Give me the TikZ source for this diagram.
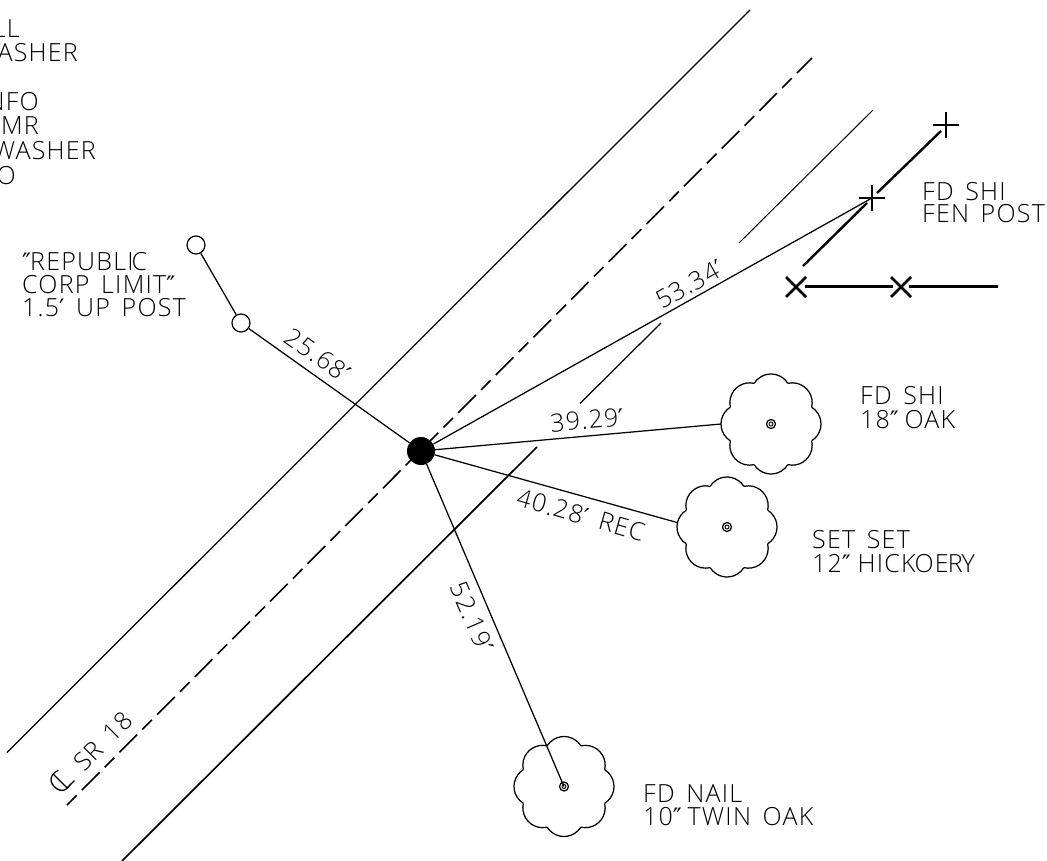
\documentclass[tikz,border=0pt]{standalone}
\usepackage{fontspec}
\setmainfont[LetterSpace=5,WordSpace=1.5]{Open Sans Light}
\newfontfamily\symfont{DejaVu Sans}
\newcommand{\pr}{{\symfont\fontsize{24}{24}\selectfont ′}}
\newcommand{\dpr}{{\symfont\fontsize{24}{24}\selectfont ″}}
\newcommand{\cl}{\fontsize{29}{29}\selectfont\rlap{C}\kern7pt L\fontsize{25}{23}\selectfont}
\tikzset{
  cadtext/.style={font=\fontsize{25}{23}\selectfont, inner sep=0pt, align=left},
  thinline/.style={line width=1.25pt},
  heavyline/.style={line width=2.4pt},
  centerline/.style={line width=1.6pt, dash pattern=on 13.7pt off 7.3pt on 25pt off 7.3pt},
  postmark/.style={circle, draw, line width=1.25pt, minimum size=18pt, inner sep=0pt},
  hub/.style={circle, fill=black, minimum size=28pt, inner sep=0pt},
  crossmark/.style={line width=2.6pt}
}
% tree outline: eight lobes around a named centre, with a small double circle
\newcommand{\treeshape}[1]{%
  \foreach \a in {0,45,...,315} {
    \draw[thinline] (#1) ++(\a-22.5:44pt) arc[start angle=\a-58.1, end angle=\a+58.1, radius=19.84pt];
  }
  \draw[thinline] (#1) circle[radius=4.5pt];
  \draw[line width=.9pt] (#1) circle[radius=2pt];
}
\begin{document}
\begin{tikzpicture}[x=1pt,y=-1pt]
\useasboundingbox (0,0) rectangle (1047,861);
\fill[white] (0,0) rectangle (1047,861);

% road lines
\coordinate (ra) at (7,752.5);
\coordinate (rb) at (750,10);
\coordinate (ca) at (67,805);
\coordinate (cb) at (812,58);
\coordinate (sa) at (122,861);
\coordinate (sb) at (537,447);
\coordinate (sc) at (580,403.5);
\coordinate (sd) at (661,323);
\coordinate (se) at (739,243);
\coordinate (sf) at (873,110);
\draw[thinline] (ra) -- (rb);
\draw[centerline] (ca) -- (cb);
\draw[line width=1.7pt] (sa) -- (sb);
\draw[thinline] (sc) -- (sd);
\draw[line width=1pt] (se) -- (sf);

% hub and ties
\node[hub] (hub) at (421,451) {};
\node[postmark] (p1) at (196,245) {};
\node[postmark] (p2) at (241,323) {};
\coordinate (t1) at (771,424);
\coordinate (t2) at (727,527);
\coordinate (t3) at (564,786.5);
\coordinate (t1e) at (721,424);
\coordinate (t2e) at (677,522.5);
\coordinate (fp1) at (872,198);
\coordinate (fp2) at (946,125);
\coordinate (x1) at (796,287);
\coordinate (x2) at (901,287);
\coordinate (f1) at (803,266);
\coordinate (f2) at (867,203);
\coordinate (f3) at (877,193);
\coordinate (f4) at (941,131);
\coordinate (g1) at (805,286.5);
\coordinate (g2) at (893,286.5);
\coordinate (g3) at (909,286.5);
\coordinate (g4) at (998,286.5);

\draw[thinline] (p1) -- (p2);
\draw[thinline] (p2) -- (hub);
\draw[thinline] (hub) -- (fp1);
\draw[thinline] (hub) -- (t1e);
\draw[thinline] (hub) -- (t2e);
\draw[thinline] (hub) -- (t3);

\treeshape{t1}
\treeshape{t2}
\treeshape{t3}

% fence
\draw[heavyline] (f1) -- (f2);
\draw[heavyline] (f3) -- (f4);
\draw[heavyline] (g1) -- (g2);
\draw[heavyline] (g3) -- (g4);
\foreach \c in {fp1,fp2} {
  \draw[crossmark] (\c) ++(-13,0) -- ++(26,0);
  \draw[crossmark] (\c) ++(0,-13) -- ++(0,26);
}
\foreach \c in {x1,x2} {
  \draw[crossmark] (\c) ++(-10,-10) -- ++(20,20);
  \draw[crossmark] (\c) ++(-10,10) -- ++(20,-20);
}

% clipped notes at the left edge
\node[cadtext, anchor=base east] (n1) at (20,38) {LL};
\node[cadtext, anchor=base east] (n2) at (78,62) {ASHER};
\node[cadtext, anchor=base east] (n3) at (39,111) {NFO};
\node[cadtext, anchor=base east] (n4) at (39,135) {UMR};
\node[cadtext, anchor=base east] (n5) at (96,160) {WASHER};
\node[cadtext, anchor=base east] (n6) at (16,185) {O};

% labels
\node[cadtext, anchor=base west] (l1) at (22,270) {\dpr\kern-1pt REPUBLI\kern-2pt C};
\node[cadtext, anchor=base west] (l2) at (22,293) {CORP LIMIT\dpr};
\node[cadtext, anchor=base west] (l3) at (22,316) {1.5\pr{} UP POST};
\node[cadtext, anchor=base west] (l4) at (922,200.5) {FD SHI};
\node[cadtext, anchor=base west] (l5) at (922,223) {FEN POST};
\node[cadtext, anchor=base west] (l6) at (860,404) {FD SHI};
\node[cadtext, anchor=base west] (l7) at (860,428) {18\dpr{}\kern-6pt{} OAK};
\node[cadtext, anchor=base west] (l8) at (812,548) {SET SET};
\node[cadtext, anchor=base west] (l9) at (812,572) {12\dpr{}\kern-5pt{} HICK\kern-1pt OE\kern-1pt R\kern-1pt Y};
\node[cadtext, anchor=base west] (l10) at (643,802) {FD NAIL};
\node[cadtext, anchor=base west] (l11) at (643,825) {10\dpr{}\kern-6pt{} TWIN OAK};

% distances
\node[cadtext, rotate=-35] (d1) at (318,355) {25.68\pr};
\node[cadtext, rotate=29.5] (d2) at (690,284) {53.34\pr};
\node[cadtext, rotate=5] (d3) at (587,420) {39.29\pr};
\node[cadtext, rotate=-16] (d4) at (581,515) {40.28\pr{} REC};
\node[cadtext, rotate=-66.5] (d5) at (472,617) {52.19\pr};
\node[cadtext, rotate=45] (d6) at (90,752) {\cl{} SR 18};
\end{tikzpicture}
\end{document}
